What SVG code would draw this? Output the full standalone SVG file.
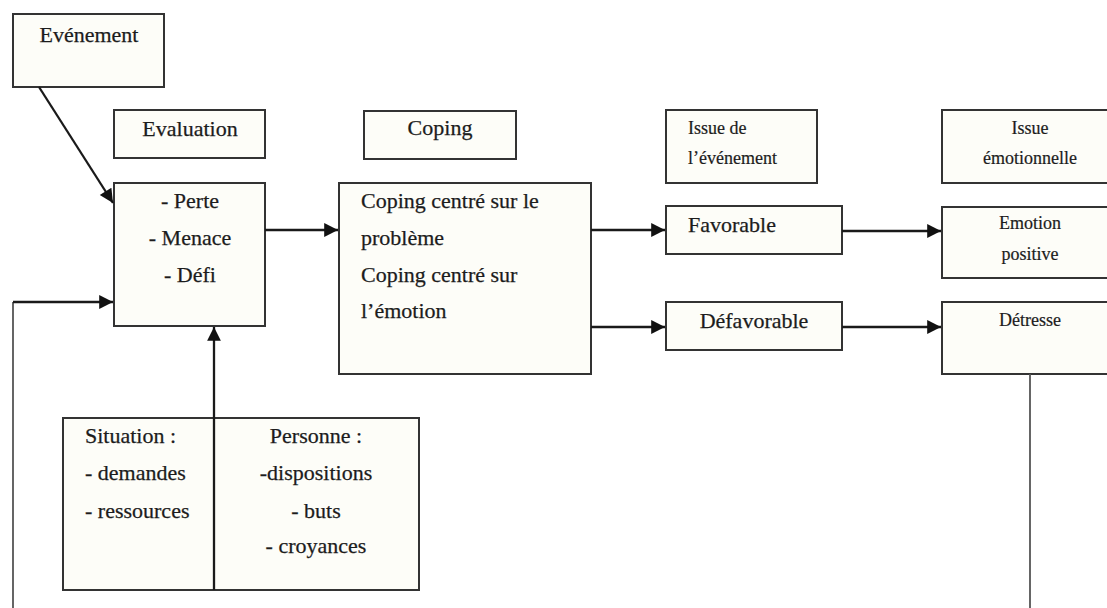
<svg xmlns="http://www.w3.org/2000/svg" width="1107" height="608" viewBox="0 0 1107 608">
  <style>
    .box { fill: #fdfdf8; stroke: #333; stroke-width: 2; }
    .t { font-family: "Liberation Serif", "Times New Roman", serif; font-size: 22px; fill: #1c1c1c; stroke: #1c1c1c; stroke-width: 0.25; }
    .s { font-family: "Liberation Serif", "Times New Roman", serif; font-size: 18px; fill: #1c1c1c; stroke: #1c1c1c; stroke-width: 0.2; }
    .c { text-anchor: middle; }
    .link { fill: none; stroke: #1a1a1a; stroke-width: 2.3; }
    .plain { fill: none; stroke: #555; stroke-width: 1.8; }
  </style>
  <defs>
    <marker id="arrow" viewBox="0 0 10 10" refX="10" refY="5" markerWidth="7" markerHeight="6" markerUnits="strokeWidth" orient="auto">
      <path d="M0,0 L10,5 L0,10 Z" fill="#111"/>
    </marker>
  </defs>

  <rect width="1107" height="608" fill="#ffffff"/>

  <g id="evenement">
    <rect class="box" x="13" y="14" width="151" height="73"/>
    <text class="t c" x="89" y="42">Evénement</text>
  </g>

  <g id="evaluation-titre">
    <rect class="box" x="114" y="110" width="151" height="48"/>
    <text class="t c" x="190" y="136">Evaluation</text>
  </g>

  <g id="evaluation">
    <rect class="box" x="114" y="183" width="151" height="143"/>
    <text class="t c" x="190" y="208">- Perte</text>
    <text class="t c" x="190" y="245">- Menace</text>
    <text class="t c" x="190" y="282">- Défi</text>
  </g>

  <g id="coping-titre">
    <rect class="box" x="364" y="111" width="152" height="48"/>
    <text class="t c" x="440" y="135">Coping</text>
  </g>

  <g id="coping">
    <rect class="box" x="339" y="183" width="252" height="191"/>
    <text class="t" x="361" y="208">Coping centré sur le</text>
    <text class="t" x="361" y="245">problème</text>
    <text class="t" x="361" y="282">Coping centré sur</text>
    <text class="t" x="361" y="318">l’émotion</text>
  </g>

  <g id="issue-evenement-titre">
    <rect class="box" x="666" y="110" width="151" height="73"/>
    <text class="s" x="688" y="134">Issue de</text>
    <text class="s" x="688" y="164">l’événement</text>
  </g>

  <g id="favorable">
    <rect class="box" x="666" y="206" width="176" height="48"/>
    <text class="t" x="688" y="232">Favorable</text>
  </g>

  <g id="defavorable">
    <rect class="box" x="666" y="302" width="176" height="48"/>
    <text class="t c" x="754" y="328">Défavorable</text>
  </g>

  <g id="issue-emotionnelle-titre">
    <rect class="box" x="942" y="110" width="176" height="73"/>
    <text class="s c" x="1030" y="134">Issue</text>
    <text class="s c" x="1030" y="164">émotionnelle</text>
  </g>

  <g id="emotion-positive">
    <rect class="box" x="942" y="207" width="176" height="71"/>
    <text class="s c" x="1030" y="229">Emotion</text>
    <text class="s c" x="1030" y="260">positive</text>
  </g>

  <g id="detresse">
    <rect class="box" x="942" y="302" width="176" height="72"/>
    <text class="s c" x="1030" y="326">Détresse</text>
  </g>

  <g id="situation-personne">
    <rect class="box" x="63" y="418" width="356" height="172"/>
    <text class="t" x="85" y="443">Situation :</text>
    <text class="t" x="85" y="480">- demandes</text>
    <text class="t" x="85" y="518">- ressources</text>
    <text class="t c" x="316" y="443">Personne :</text>
    <text class="t c" x="316" y="480">-dispositions</text>
    <text class="t c" x="316" y="518">- buts</text>
    <text class="t c" x="316" y="553">- croyances</text>
  </g>

  <g id="connecteurs">
    <!-- event to appraisal -->
    <line class="link" x1="39" y1="87" x2="113" y2="203" marker-end="url(#arrow)"/>
    <!-- feedback loop from the bottom left -->
    <line class="plain" x1="13" y1="608" x2="13" y2="302"/>
    <line class="link" x1="13" y1="302" x2="113" y2="302" marker-end="url(#arrow)"/>
    <!-- situation / person factors, also the box divider -->
    <line class="link" x1="214" y1="590" x2="214" y2="327" marker-end="url(#arrow)"/>
    <!-- appraisal to coping -->
    <line class="link" x1="265" y1="230" x2="338" y2="230" marker-end="url(#arrow)"/>
    <!-- coping to outcomes -->
    <line class="link" x1="591" y1="230" x2="665" y2="230" marker-end="url(#arrow)"/>
    <line class="link" x1="591" y1="327" x2="665" y2="327" marker-end="url(#arrow)"/>
    <!-- outcomes to emotional outcomes -->
    <line class="link" x1="842" y1="231" x2="941" y2="231" marker-end="url(#arrow)"/>
    <line class="link" x1="842" y1="327" x2="941" y2="327" marker-end="url(#arrow)"/>
    <!-- distress back down -->
    <line class="plain" x1="1030" y1="374" x2="1030" y2="608"/>
  </g>
</svg>
